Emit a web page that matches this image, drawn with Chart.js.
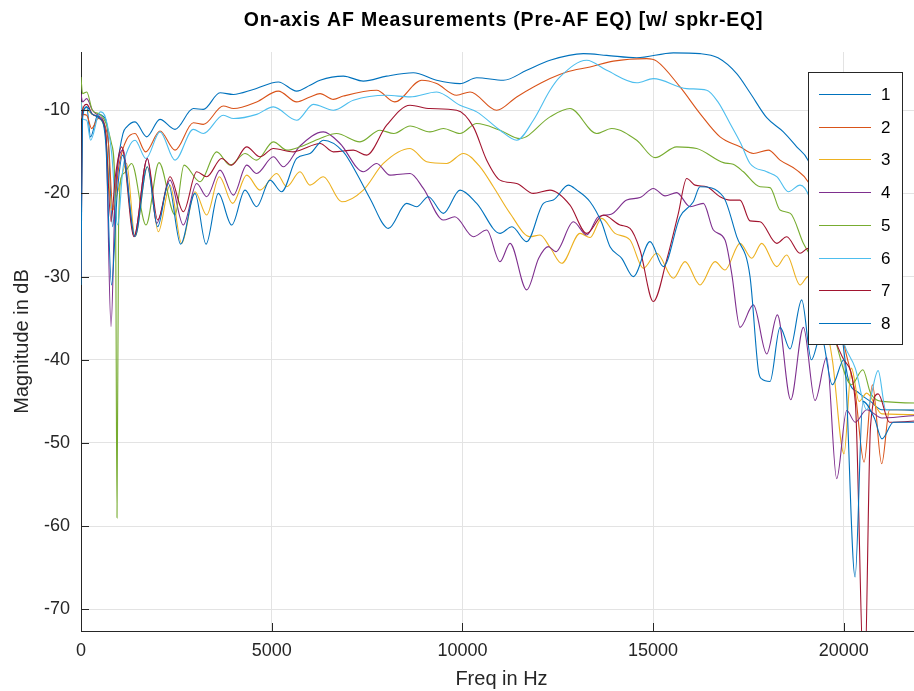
<!DOCTYPE html>
<html>
<head>
<meta charset="utf-8">
<script src="https://cdn.jsdelivr.net/npm/chart.js@4.4.1/dist/chart.umd.min.js"></script>
<style>
html,body{margin:0;padding:0;background:#fff;overflow:hidden;}
#wrap{width:914px;height:691px;overflow:hidden;position:relative;}
canvas{display:block;}
</style>
</head>
<body>
<div id="wrap"><canvas id="c" width="930" height="691"></canvas></div>
<script>
// ---- data (frequency in Hz, magnitude in dB) ----
const chartTitle = 'On-axis AF Measurements (Pre-AF EQ) [w/ spkr-EQ]';
const seriesLabels = ["1","2","3","4","5","6","7","8"];
const freqTicks = [0, 5000, 10000, 15000, 20000];
const dbTicks = [-70, -60, -50, -40, -30, -20, -10];

const s1 = [[0,-9],[40,-10],[150,-9.6],[250,-13.2],[450,-10.5],[600,-10.8],[700,-12.5],[830,-24],[950,-17],[1100,-12.8],[1200,-12.0],[1416,-11.4],[1722,-13.2],[2071,-11.1],[2465,-12.3],[2945,-9.8],[3207,-9.9],[3645,-7.9],[3994,-8.1],[4518,-7.5],[5174,-6.6],[5655,-7.7],[6004,-7.0],[6267,-6.4],[6879,-5.9],[7402,-6.5],[8014,-5.9],[8714,-5.5],[9325,-6.4],[9937,-6.8],[10375,-6.1],[11074,-6.4],[11686,-5.2],[12297,-4.0],[13172,-3.2],[13783,-3.4],[14570,-3.7],[15531,-3.1],[16230,-3.2],[16700,-3.7],[17192,-5.6],[17541,-7.9],[17979,-10.9],[18415,-12.6],[18765,-14.4],[19062,-16.0],[19500,-22],[19900,-35],[20100,-42],[20400,-44],[20700,-45],[21000,-46],[21400,-46],[22050,-46.2]];

const s2 = [[0,-11],[40,-10.5],[150,-10.6],[280,-12.2],[450,-11],[600,-11.5],[720,-14],[840,-22],[1000,-16.5],[1200,-13.5],[1416,-12.8],[1695,-15.0],[2071,-12.5],[2465,-14.8],[2945,-11.5],[3207,-11.7],[3732,-9.5],[4000,-9.8],[4606,-9.0],[5174,-7.7],[5655,-9.0],[6004,-8.4],[6267,-8.0],[6617,-8.7],[6879,-8.3],[7752,-7.6],[8224,-9.0],[8933,-6.4],[9325,-6.8],[9849,-8.2],[10200,-7.8],[10899,-10.0],[11423,-8.4],[12297,-6.2],[12734,-5.4],[13346,-4.8],[13957,-4.1],[14831,-3.8],[15094,-4.1],[15706,-7.2],[16230,-10.4],[16755,-13.2],[17279,-14.4],[17629,-15.2],[18022,-14.8],[18328,-16.0],[18765,-17.2],[19062,-18.6],[19500,-24],[20000,-38],[20300,-44],[20531,-52.3],[20750,-43],[20994,-52.5],[21200,-46],[22050,-46]];

const s3 = [[0,-9],[40,-10],[150,-10],[300,-10.5],[500,-11],[650,-13],[800,-22],[950,-20],[1197,-16.4],[1416,-25.2],[1739,-16.8],[2028,-24.6],[2334,-19.0],[2639,-26.0],[2989,-19.8],[3295,-22.6],[3627,-18.0],[3977,-21.2],[4344,-17.8],[4693,-19.6],[5131,-17.6],[5393,-19.2],[5742,-17.4],[6004,-19.0],[6354,-18.0],[6835,-21.0],[7402,-19.6],[7927,-16.4],[8627,-14.6],[9063,-16.2],[9587,-16.4],[10024,-15.2],[10462,-16.8],[10812,-19.2],[11249,-22.4],[11773,-25.2],[12035,-25.0],[12300,-26.5],[12603,-28.4],[13084,-24.8],[13346,-25.3],[13652,-23.0],[14000,-24.8],[14395,-25.6],[14745,-29.0],[15094,-27.2],[15531,-30.2],[15837,-28.2],[16230,-31.0],[16623,-28.2],[16885,-29.2],[17279,-26.0],[17585,-27.8],[17847,-26.0],[18240,-28.8],[18502,-27.4],[18852,-31.0],[19062,-30.0],[19400,-33],[19700,-40],[20006,-51.3],[20200,-41],[20400,-45],[20600,-44],[21000,-46.5],[22050,-46.6]];

const s4 = [[0,-8],[40,-9],[150,-8.6],[300,-10],[500,-10.8],[650,-13],[787,-36],[900,-20],[1110,-14.8],[1390,-25.2],[1739,-15.8],[1984,-23.6],[2334,-18.4],[2683,-23.8],[3033,-18.8],[3295,-20.4],[3645,-17.2],[3995,-20.2],[4344,-16.6],[4606,-17.6],[5044,-15.6],[5305,-16.8],[5742,-14.3],[6354,-12.6],[6791,-14.0],[7402,-17.4],[7752,-16.4],[8102,-17.8],[8627,-17.6],[8976,-19.4],[9500,-23.2],[9800,-22.8],[10287,-25.2],[10637,-24.4],[10986,-28.2],[11249,-26.0],[11686,-31.6],[12000,-27.8],[12250,-26.4],[12450,-27],[12909,-23.4],[13259,-25.0],[13565,-22.8],[13900,-22.5],[14307,-20.8],[14657,-20.5],[15007,-19.4],[15313,-20.3],[15619,-19.9],[15968,-21.6],[16318,-21.2],[16580,-24.4],[16885,-25.6],[17060,-29.6],[17279,-36.1],[17629,-33.4],[17979,-39.3],[18258,-34.6],[18608,-44.8],[18940,-36.1],[19246,-44.9],[19551,-39.7],[19813,-54.3],[20076,-46.1],[20300,-47.5],[20600,-46],[21000,-47],[22050,-46.6]];

const s5 = [[0,-6],[40,-8],[150,-7.8],[300,-10],[500,-10.5],[650,-11.5],[800,-14],[905,-22],[944,-59],[985,-24],[1060,-18],[1150,-17.5],[1328,-16.4],[1704,-23.8],[2045,-16.3],[2465,-22.6],[2701,-16.6],[3120,-18.6],[3557,-15.0],[3907,-16.6],[4300,-15.2],[4606,-16.0],[5044,-13.8],[5400,-14.8],[5742,-14.4],[6267,-13.4],[6700,-12.8],[7315,-13.8],[7839,-12.4],[8200,-12.8],[8627,-11.9],[9150,-12.6],[9500,-12.2],[9937,-12.8],[10375,-11.6],[10986,-12.4],[11511,-13.4],[12297,-10.8],[12821,-9.8],[13521,-12.8],[13914,-12.2],[14570,-13.6],[15050,-15.7],[15619,-14.4],[16143,-14.6],[16843,-16.3],[17100,-16.5],[17367,-17.4],[17804,-19.2],[18066,-19.3],[18328,-22.0],[18600,-22.4],[18939,-26.0],[19400,-30],[19800,-38],[20200,-43],[20500,-41.2],[20700,-44],[21000,-45],[22050,-45.2]];

const s6 = [[0,-9],[40,-11],[150,-11.2],[250,-13.6],[500,-10.2],[650,-11],[800,-15],[961,-23.8],[1100,-17],[1250,-14.5],[1416,-13.6],[1704,-15.8],[2071,-12.6],[2465,-16.0],[2945,-12.3],[3207,-12.8],[3732,-10.6],[4000,-11.0],[4606,-10.5],[5044,-9.6],[5655,-11.2],[6092,-9.3],[6617,-10.0],[7140,-8.8],[8014,-8.2],[8627,-8.4],[9325,-7.8],[9937,-9.4],[10375,-10.2],[10986,-12.4],[11423,-13.6],[11860,-11.2],[12297,-7.6],[12559,-6.0],[13259,-4.0],[13783,-5.2],[14570,-6.7],[15007,-6.2],[15881,-7.4],[16405,-7.6],[16700,-9.0],[17017,-11.6],[17300,-14.0],[17541,-16.4],[17979,-17.4],[18250,-18.0],[18547,-19.8],[18852,-19.0],[19100,-20.5],[19600,-30],[20000,-38],[20300,-41],[20600,-46],[20900,-41.3],[21100,-46],[22050,-46]];

const s7 = [[0,-30],[40,-10],[150,-9.3],[300,-10.5],[500,-11],[650,-13],[787,-23.4],[900,-18],[1066,-14.4],[1390,-25.2],[1739,-15.8],[2010,-23.2],[2334,-18.0],[2683,-22.2],[3033,-17.4],[3295,-18.0],[3688,-15.8],[3951,-16.6],[4344,-14.4],[4693,-15.6],[5044,-14.6],[5567,-15.0],[5742,-14.8],[6267,-14.0],[6617,-15.0],[7140,-14.8],[7490,-15.4],[8014,-11.8],[8627,-9.4],[9150,-9.8],[9849,-10.0],[10287,-12.0],[10637,-16.0],[10986,-18.4],[11423,-18.8],[11860,-20.0],[12297,-19.6],[12821,-21.4],[13259,-24.8],[13696,-22.6],[14133,-23.8],[14395,-24.2],[14657,-26.8],[15006,-33.0],[15356,-28.0],[15662,-22.4],[15881,-18.2],[16100,-19.0],[16405,-19.2],[16755,-20.4],[17017,-20.8],[17279,-20.8],[17541,-23.3],[17804,-23.4],[18241,-26.0],[18503,-25.2],[18852,-27.2],[19062,-26.6],[19500,-34],[20000,-40],[20300,-45],[20538,-80],[20700,-48],[20900,-44.1],[21200,-47.5],[22050,-47.3]];

const s8 = [[0,-31],[40,-11],[150,-9.6],[300,-10.5],[500,-11],[650,-14],[800,-31],[950,-20],[1093,-15.4],[1416,-25.2],[1739,-16.8],[2010,-24.0],[2290,-18.8],[2613,-26.1],[2989,-20.0],[3278,-26.1],[3601,-20.0],[3951,-23.8],[4300,-19.6],[4606,-21.6],[4956,-18.4],[5261,-19.8],[5654,-15.8],[6004,-15.2],[6354,-13.6],[6879,-15.0],[7228,-17.6],[7577,-20.6],[8058,-24.2],[8539,-21.2],[8800,-21.6],[9107,-20.4],[9500,-22.4],[9937,-19.6],[10375,-21.2],[10986,-24.8],[11300,-24.0],[11686,-25.8],[12123,-21.2],[12384,-20.8],[12778,-19.0],[13000,-19.6],[13346,-21.0],[13650,-23.5],[13871,-26.4],[14177,-27.8],[14482,-30.0],[14919,-25.8],[15268,-28.8],[15706,-22.8],[16055,-21.0],[16230,-19.2],[16842,-20.4],[17192,-25.2],[17541,-30.0],[17760,-41.3],[17847,-42.3],[18066,-42.6],[18328,-36.1],[18590,-38.7],[18896,-32.8],[19150,-40],[19400,-37],[19700,-43],[20000,-40],[20295,-66.1],[20500,-45],[20800,-47],[21002,-49.5],[21300,-47.5],[22050,-47.5]];

const allSeries = [s1, s2, s3, s4, s5, s6, s7, s8];
const colors = ["#0072BD","#D95319","#EDB120","#7E2F8E","#77AC30","#4DBEEE","#A2142F","#0072BD"];

const FONT = "'Liberation Sans', Arial, Helvetica, sans-serif";

const datasets = allSeries.map((s, i) => ({
  label: seriesLabels[i],
  data: s.map(p => ({x: p[0], y: p[1]})),
  borderColor: colors[i],
  backgroundColor: colors[i],
  borderWidth: 1.1,
  pointRadius: 0,
  fill: false,
  cubicInterpolationMode: 'monotone',
  order: allSeries.length - i
}));

// title centred over the plot area
const plotTitle = {
  id: 'plotTitle',
  afterDraw(chart) {
    const {ctx, chartArea: a} = chart;
    ctx.save();
    ctx.font = 'bold 19.5px ' + FONT;
    if ('letterSpacing' in ctx) ctx.letterSpacing = '0.8px';
    ctx.fillStyle = '#000';
    ctx.textAlign = 'center';
    ctx.textBaseline = 'alphabetic';
    ctx.fillText(chartTitle, (a.left + a.right) / 2 + 2, 26);
    ctx.restore();
  }
};

// inward tick marks (MATLAB style)
const innerTicks = {
  id: 'innerTicks',
  afterDatasetsDraw(chart) {
    const {ctx, chartArea: a, scales: {x, y}} = chart;
    ctx.save();
    ctx.strokeStyle = '#262626';
    ctx.lineWidth = 1;
    ctx.beginPath();
    freqTicks.forEach(v => {
      const px = Math.round(x.getPixelForValue(v)) + 0.5;
      ctx.moveTo(px, a.bottom); ctx.lineTo(px, a.bottom - 8);
    });
    dbTicks.forEach(v => {
      const py = Math.round(y.getPixelForValue(v)) + 0.5;
      ctx.moveTo(a.left, py); ctx.lineTo(a.left + 8, py);
    });
    ctx.stroke();
    ctx.restore();
  }
};

// legend box inside plot (north-east)
const boxLegend = {
  id: 'boxLegend',
  afterDraw(chart) {
    const ctx = chart.ctx;
    const bx = 808.5, by = 72.5, bw = 94, bh = 272;
    ctx.save();
    ctx.fillStyle = '#ffffff';
    ctx.fillRect(bx, by, bw, bh);
    ctx.strokeStyle = '#262626';
    ctx.lineWidth = 1;
    ctx.strokeRect(bx, by, bw, bh);
    ctx.font = '17px ' + FONT;
    ctx.textBaseline = 'middle';
    ctx.textAlign = 'left';
    chart.data.datasets.forEach((ds, i) => {
      const yy = Math.round(94 + i * 32.7) + 0.5;
      ctx.strokeStyle = ds.borderColor;
      ctx.lineWidth = 1.1;
      ctx.beginPath();
      ctx.moveTo(819, yy); ctx.lineTo(871, yy);
      ctx.stroke();
      ctx.fillStyle = '#000';
      ctx.fillText(ds.label, 881, yy + 1);
    });
    ctx.restore();
  }
};

new Chart(document.getElementById('c'), {
  type: 'line',
  data: {datasets},
  plugins: [innerTicks, boxLegend, plotTitle],
  options: {
    responsive: false,
    animation: false,
    devicePixelRatio: 1,
    layout: {padding: {left: 0, right: 8, top: 52, bottom: 0}},
    plugins: {
      legend: {display: false},
      tooltip: {enabled: false},
      title: {display: false}
    },
    scales: {
      x: {
        type: 'linear',
        min: 0, max: 22050,
        afterBuildTicks: s => { s.ticks = freqTicks.map(v => ({value: v})); },
        afterFit: s => { s.height = 60; },
        ticks: {color: '#262626', font: {family: FONT, size: 18}, padding: 9, maxRotation: 0, callback: v => String(v)},
        grid: {color: '#e3e3e3', drawTicks: false, lineWidth: 1},
        border: {display: true, color: '#262626', width: 1},
        title: {display: true, text: 'Freq in Hz', color: '#262626', font: {family: FONT, size: 20, lineHeight: 1.2}, padding: {top: 1, bottom: 0}}
      },
      y: {
        type: 'linear',
        min: -72.6, max: -3,
        afterBuildTicks: s => { s.ticks = dbTicks.map(v => ({value: v})); },
        afterFit: s => { s.width = 81; },
        ticks: {color: '#262626', font: {family: FONT, size: 18}, padding: 11, callback: v => String(v)},
        grid: {color: '#e3e3e3', drawTicks: false, lineWidth: 1},
        border: {display: true, color: '#262626', width: 1},
        title: {display: true, text: 'Magnitude in dB', color: '#262626', font: {family: FONT, size: 20, lineHeight: 1.2}, padding: {top: 10, bottom: 0}}
      }
    }
  }
});
</script>
</body>
</html>
